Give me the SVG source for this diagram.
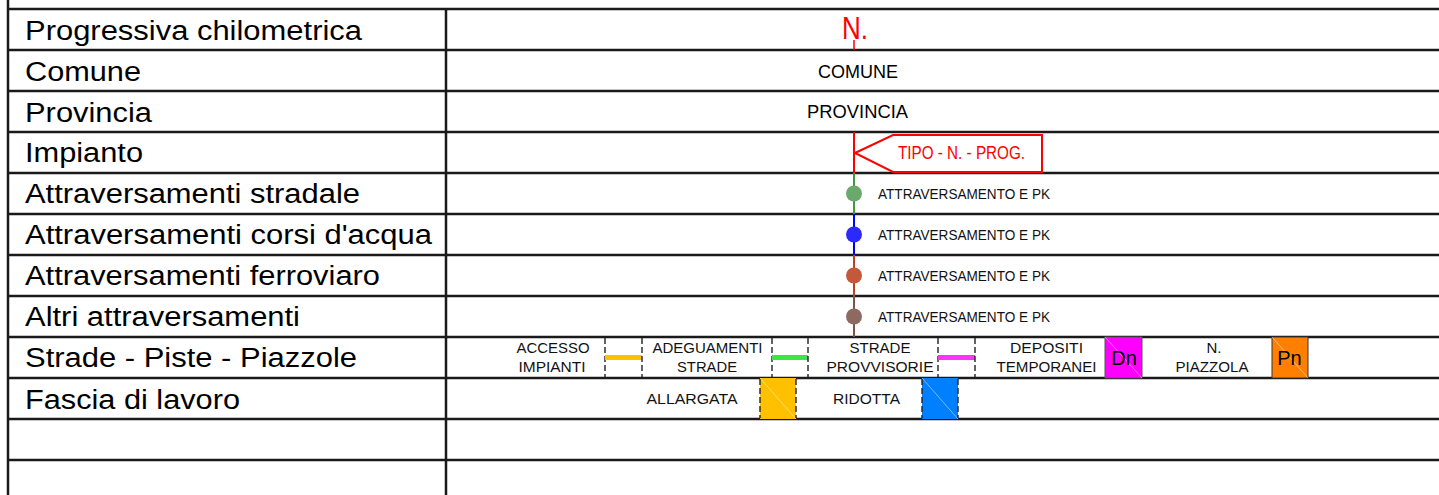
<svg xmlns="http://www.w3.org/2000/svg" width="1439" height="495" viewBox="0 0 1439 495">
<style>
.grid{stroke:#1a1a1a;stroke-width:2.5;fill:none}
.lbl{font-family:"Liberation Sans",Arial,sans-serif;font-size:27px;fill:#000}
.c{font-family:"Liberation Sans",Arial,sans-serif;fill:#000;text-anchor:middle}
.att{font-family:"Liberation Sans",Arial,sans-serif;font-size:14px;fill:#111}
.leg{font-family:"Liberation Sans",Arial,sans-serif;font-size:15px;fill:#111;text-anchor:middle}
.red{fill:#ff0000}
.dash{stroke:#222;stroke-width:1.4;stroke-dasharray:6 3;fill:none}
.diag{stroke:#ffffff;stroke-opacity:0.45;stroke-width:1}
</style>
<rect width="1439" height="495" fill="#ffffff"/>
<g id="grid" class="grid">
  <line x1="8" y1="0" x2="8" y2="495"/>
  <line x1="446" y1="9" x2="446" y2="495"/>
  <line x1="8" y1="9" x2="1439" y2="9"/>
  <line x1="8" y1="50" x2="1439" y2="50"/>
  <line x1="8" y1="91" x2="1439" y2="91"/>
  <line x1="8" y1="132" x2="1439" y2="132"/>
  <line x1="8" y1="173" x2="1439" y2="173"/>
  <line x1="8" y1="214" x2="1439" y2="214"/>
  <line x1="8" y1="255" x2="1439" y2="255"/>
  <line x1="8" y1="296" x2="1439" y2="296"/>
  <line x1="8" y1="337" x2="1439" y2="337"/>
  <line x1="8" y1="378" x2="1439" y2="378"/>
  <line x1="8" y1="419" x2="1439" y2="419"/>
  <line x1="8" y1="460" x2="1439" y2="460"/>
</g>
<g id="labels">
  <text class="lbl" x="25" y="39.5" textLength="337" lengthAdjust="spacingAndGlyphs">Progressiva chilometrica</text>
  <text class="lbl" x="25" y="80.5" textLength="116" lengthAdjust="spacingAndGlyphs">Comune</text>
  <text class="lbl" x="25" y="121.5" textLength="127" lengthAdjust="spacingAndGlyphs">Provincia</text>
  <text class="lbl" x="25" y="161.5" textLength="118" lengthAdjust="spacingAndGlyphs">Impianto</text>
  <text class="lbl" x="25" y="202.5" textLength="335" lengthAdjust="spacingAndGlyphs">Attraversamenti stradale</text>
  <text class="lbl" x="25" y="244" textLength="407" lengthAdjust="spacingAndGlyphs">Attraversamenti corsi d'acqua</text>
  <text class="lbl" x="25" y="285" textLength="355" lengthAdjust="spacingAndGlyphs">Attraversamenti ferroviaro</text>
  <text class="lbl" x="25" y="326" textLength="275" lengthAdjust="spacingAndGlyphs">Altri attraversamenti</text>
  <text class="lbl" x="25" y="367" textLength="332" lengthAdjust="spacingAndGlyphs">Strade - Piste - Piazzole</text>
  <text class="lbl" x="25" y="408.5" textLength="215" lengthAdjust="spacingAndGlyphs">Fascia di lavoro</text>
</g>
<g id="connectors">
  <line x1="854" y1="40" x2="854" y2="50" stroke="#ff0000" stroke-width="1.5"/>
  <line x1="854" y1="132" x2="854" y2="173" stroke="#ff0000" stroke-width="2"/>
  <line x1="854" y1="173" x2="854" y2="214" stroke="#3f9a3f" stroke-width="2"/>
  <line x1="854" y1="214" x2="854" y2="255" stroke="#0000ff" stroke-width="2"/>
  <line x1="854" y1="255" x2="854" y2="296" stroke="#c0401c" stroke-width="2"/>
  <line x1="854" y1="296" x2="854" y2="337" stroke="#7a5548" stroke-width="2"/>
</g>
<g id="progressiva">
  <text class="red" x="842" y="39" font-family="Liberation Sans, Arial, sans-serif" font-size="31" textLength="26" lengthAdjust="spacingAndGlyphs">N.</text>
</g>
<g id="comune">
  <text class="c" x="858" y="78" font-size="18.5" textLength="80" lengthAdjust="spacingAndGlyphs">COMUNE</text>
</g>
<g id="provincia">
  <text class="c" x="857.5" y="118" font-size="18.5" textLength="101" lengthAdjust="spacingAndGlyphs">PROVINCIA</text>
</g>
<g id="impianto">
  <polygon points="855,153 893,135 1042,135 1042,172 893,172" fill="#ffffff" stroke="#ff0000" stroke-width="2"/>
  <text class="red" x="898" y="159" font-family="Liberation Sans, Arial, sans-serif" font-size="17.5" textLength="127" lengthAdjust="spacingAndGlyphs">TIPO - N. - PROG.</text>
</g>
<g id="att-stradale">
  <circle cx="854" cy="193.5" r="8" fill="#6aa86c"/>
  <text class="att" x="878" y="198.5" textLength="172" lengthAdjust="spacingAndGlyphs">ATTRAVERSAMENTO E PK</text>
</g>
<g id="att-acqua">
  <circle cx="854" cy="234.5" r="8" fill="#2a2aff"/>
  <text class="att" x="878" y="239.5" textLength="172" lengthAdjust="spacingAndGlyphs">ATTRAVERSAMENTO E PK</text>
</g>
<g id="att-ferroviario">
  <circle cx="854" cy="275.5" r="8" fill="#c4583a"/>
  <text class="att" x="878" y="280.5" textLength="172" lengthAdjust="spacingAndGlyphs">ATTRAVERSAMENTO E PK</text>
</g>
<g id="att-altri">
  <circle cx="854" cy="316.5" r="8" fill="#8c6a60"/>
  <text class="att" x="878" y="321.5" textLength="172" lengthAdjust="spacingAndGlyphs">ATTRAVERSAMENTO E PK</text>
</g>
<g id="strade-legend">
  <text class="leg" x="553" y="353" textLength="73" lengthAdjust="spacingAndGlyphs">ACCESSO</text>
  <text class="leg" x="552" y="372" textLength="67" lengthAdjust="spacingAndGlyphs">IMPIANTI</text>
  <line class="dash" x1="605" y1="338" x2="605" y2="377"/>
  <rect x="605" y="355" width="37" height="5" fill="#ffc000"/>
  <line class="dash" x1="642" y1="338" x2="642" y2="377"/>
  <text class="leg" x="707.5" y="353" textLength="110" lengthAdjust="spacingAndGlyphs">ADEGUAMENTI</text>
  <text class="leg" x="707" y="372" textLength="60" lengthAdjust="spacingAndGlyphs">STRADE</text>
  <line class="dash" x1="772" y1="338" x2="772" y2="377"/>
  <rect x="772" y="355" width="36" height="5" fill="#3fe63f"/>
  <line class="dash" x1="808" y1="338" x2="808" y2="377"/>
  <text class="leg" x="880" y="353" textLength="61" lengthAdjust="spacingAndGlyphs">STRADE</text>
  <text class="leg" x="880" y="372" textLength="107" lengthAdjust="spacingAndGlyphs">PROVVISORIE</text>
  <line class="dash" x1="938" y1="338" x2="938" y2="377"/>
  <rect x="938" y="355" width="37" height="5" fill="#ff33ff"/>
  <line class="dash" x1="975" y1="338" x2="975" y2="377"/>
  <text class="leg" x="1046.5" y="353" textLength="73" lengthAdjust="spacingAndGlyphs">DEPOSITI</text>
  <text class="leg" x="1046.5" y="372" textLength="100" lengthAdjust="spacingAndGlyphs">TEMPORANEI</text>
  <rect x="1105" y="337" width="37" height="41" fill="#ff00ff" stroke="#555" stroke-width="1"/>
  <line class="diag" x1="1105" y1="337" x2="1142" y2="378"/>
  <text class="c" x="1124" y="365" font-size="20">Dn</text>
  <text class="leg" x="1214" y="353">N.</text>
  <text class="leg" x="1212" y="372" textLength="73" lengthAdjust="spacingAndGlyphs">PIAZZOLA</text>
  <rect x="1272" y="337" width="36" height="41" fill="#ff8000" stroke="#333" stroke-width="1"/>
  <line class="diag" x1="1272" y1="337" x2="1308" y2="378"/>
  <text class="c" x="1289.5" y="365" font-size="20">Pn</text>
</g>
<g id="fascia-legend">
  <text class="leg" x="692" y="404" textLength="91" lengthAdjust="spacingAndGlyphs">ALLARGATA</text>
  <rect x="760" y="378" width="36" height="41" fill="#ffc000"/>
  <line class="diag" x1="760" y1="378" x2="796" y2="419"/>
  <line class="dash" x1="760" y1="379" x2="760" y2="418"/>
  <line class="dash" x1="796" y1="379" x2="796" y2="418"/>
  <text class="leg" x="866.5" y="403.5" textLength="67" lengthAdjust="spacingAndGlyphs">RIDOTTA</text>
  <rect x="922" y="378" width="36" height="41" fill="#0080ff"/>
  <line class="diag" x1="922" y1="378" x2="958" y2="419"/>
  <line class="dash" x1="922" y1="379" x2="922" y2="418"/>
  <line class="dash" x1="958" y1="379" x2="958" y2="418"/>
</g>
</svg>
